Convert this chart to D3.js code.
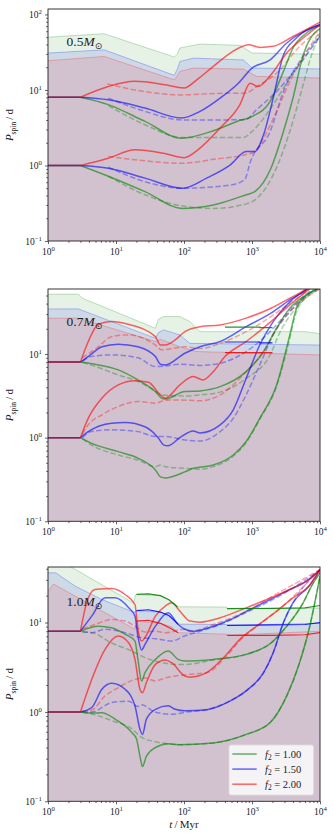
<!DOCTYPE html>
<html>
<head>
<meta charset="utf-8">
<script src="https://cdn.jsdelivr.net/npm/d3@7"></script>
<style>
  body { margin: 0; background: #fff; }
  svg { display: block; font-family: "Liberation Serif", "DejaVu Serif", serif; }
</style>
</head>
<body>
<svg id="chart" width="333" height="838"></svg>
<script>
// ---- data: [t (Myr), P_spin (d)] ----

// 0.5 Msun
const m05_fillG = [[1,50],[6.7,55.5],[72,27.3],[80,30],[87,36],[172,40.5],[665,39],[1000,30.9],[6000,30],[10000,30]];
const m05_fillB = [[1,30.8],[6.7,34],[72,15.6],[80,19],[87,23.8],[137,26.4],[750,25],[1000,19.5],[10000,19]];
const m05_fillR = [[1,24.4],[6.7,27.8],[72,13.6],[80,15.5],[87,17.6],[137,19.5],[750,18.9],[1170,15.1],[10000,14.4]];

const m05_solidG = [
  [[1,8],[3,8],[7.7,6.4],[26.7,3.83],[92,2.3],[270,2.88],[600,3.83],[1000,4.45],[1850,7.05],[2900,17.6],[4000,35.9],[6300,56.7],[10000,71]],
  [[1,1],[3,1],[7.7,0.72],[26.7,0.45],[95,0.27],[270,0.3],[820,0.41],[1100,0.45],[1900,0.92],[2900,2.82],[4000,7.8],[5650,29],[7500,51],[10000,65]]
];
const m05_solidB = [
  [[1,8],[3,8],[7.7,7.4],[26.7,5.76],[92,4.25],[172,5.2],[340,7.8],[630,12.3],[1000,19.5],[1850,25],[3240,41.8],[10000,73]],
  [[1,1],[3,1],[7.7,0.92],[26.7,0.68],[95,0.5],[215,0.68],[480,1.02],[820,1.53],[1100,1.53],[1480,2.55],[2050,7.8],[2900,29],[4500,48.7],[10000,73]]
];
const m05_solidR = [
  [[1,8],[3,8],[7.7,11.1],[19,13],[50,11.8],[100,10.6],[154,13.6],[270,20.5],[480,30.8],[890,39.7],[1300,36.6],[2050,37.8],[4000,51],[10000,79]],
  [[1,1],[3,1],[7.7,1.25],[19,1.61],[50,1.45],[100,1.27],[172,1.7],[340,3.13],[665,6.4],[940,12.3],[1230,11.1],[1900,15.9],[3240,30.8],[5650,48.7],[10000,73]]
];
const m05_dashG = [
  [[7.7,6.2],[26.7,3.46],[95,2.35],[750,2.35],[1000,2.82],[2050,6.4],[3600,14.4],[6300,29],[10000,56.7]],
  [[7.7,0.72],[26.7,0.41],[95,0.29],[270,0.27],[820,0.31],[1000,0.33],[2050,0.75],[3600,2.82],[5650,11.7],[7500,29],[10000,53.8]]
];
const m05_dashB = [
  [[7.7,7.8],[26.7,5.2],[95,4.0],[800,4.03],[1170,5.5],[2300,9.55],[4500,19.5],[10000,51]],
  [[7.7,0.95],[26.7,0.61],[95,0.5],[480,0.55],[780,0.65],[950,1.13],[1850,2.82],[2900,9.55],[5000,23.8],[10000,51]]
];
const m05_dashR = [
  [[7.5,12],[19,10],[92,8.6],[300,9.0],[800,9.1],[1170,11.1],[2600,18.5],[4500,34],[10000,63]],
  [[7.7,1.32],[19,1.19],[92,1.07],[300,1.22],[800,1.39],[1100,1.53],[1480,2.3],[2300,5.2],[3600,12.9],[6300,32],[10000,59.6]]
];

// 0.7 Msun
const m07_fillG = [[1,51.8],[2.8,51.8],[3.2,46.4],[38,20.3],[42,26],[50,28],[87,28],[122,24.4],[172,18.5],[6000,18.5],[10000,17.5]];
const m07_fillB = [[1,34.6],[2.8,34.6],[38,15.4],[42,18],[50,19.4],[87,16.9],[122,13.4],[10000,12.8]];
const m07_fillR = [[1,26.8],[2.8,26.8],[38,14.1],[45,15],[87,12.2],[150,10.7],[10000,9.75]];
const m07_satG = [[400,20.9],[1300,20.9],[1300,20.6],[2000,20.6]];
const m07_satB = [[400,13.9],[1300,13.9],[1300,13.6],[2000,13.6]];
const m07_satR = [[400,10.4],[2000,10.4]];

const m07_solidG = [
  [[1,8],[3,8],[4.9,7.54],[10.8,6.45],[21,4.9],[38,3.55],[47,2.96],[53,2.9],[103,3.55],[172,3.62],[340,4.07],[820,6.15],[1480,10.7],[2300,20.3],[3600,35.2],[6300,50.8],[10000,62]],
  [[1,1],[3,1],[4.3,0.86],[10.8,0.68],[21,0.57],[38,0.41],[45,0.34],[53,0.33],[66,0.34],[103,0.39],[137,0.43],[270,0.47],[530,0.62],[820,0.9],[1300,1.7],[2300,4.27],[3600,16.9],[4500,35],[6300,50],[10000,62]]
];
const m07_solidB = [
  [[1,8],[3,8],[3.9,9.3],[6.2,12.2],[10.8,13.1],[21,12.2],[38,9.3],[45,7.54],[53,7.4],[103,10.2],[172,12.2],[340,14.1],[820,21.2],[1900,30.7],[3600,44.3],[6300,58],[8000,68]],
  [[1,1],[3,1],[3.9,1.18],[8.6,1.49],[13.6,1.52],[26.7,1.35],[42,0.99],[50,0.82],[58,0.8],[87,1.0],[137,1.2],[172,1.14],[340,1.42],[530,2.15],[820,5.1],[1300,12.8],[2050,24.4],[3600,42],[6300,59]]
];
const m07_solidR = [
  [[1,8],[3,8],[3.9,14],[5.5,22.7],[8.6,24.4],[15,22.7],[38,16.1],[45,12.8],[53,12.8],[74,14.7],[103,18.5],[172,21.2],[340,22.2],[820,26.8],[1900,35.2],[3600,46.4],[6300,60],[8000,70]],
  [[1,1],[3,1],[3.9,1.7],[6.2,2.96],[10.8,4.27],[19,4.8],[30,4.6],[45,3.24],[53,2.96],[87,4.27],[137,5.37],[190,4.9],[270,6.15],[400,9.3],[820,14.1],[1900,24.4],[3600,38.6],[6300,56],[8000,66]]
];
const m07_dashG = [
  [[3.2,7.9],[4.3,7.4],[10.8,5.6],[21,4.7],[38,3.6],[47,3.24],[103,3.15],[172,3.24],[340,3.5],[820,5.1],[1850,9.75],[2600,18.5],[4000,32],[6900,50],[10000,60]],
  [[3.2,0.97],[4.3,0.82],[10.8,0.62],[21,0.54],[38,0.45],[45,0.47],[53,0.45],[103,0.43],[172,0.42],[270,0.45],[530,0.6],[820,0.87],[1300,1.65],[2300,4.1],[3500,14],[4400,30],[6300,48],[10000,60]]
];
const m07_dashB = [
  [[3.2,8.2],[4.3,9.3],[8.6,9.75],[21,9],[38,7.06],[53,7.2],[87,7.54],[172,7.3],[340,7.75],[820,10.7],[1850,18.5],[3600,33.6],[7000,56],[9000,64]],
  [[3.2,1.0],[4.3,1.18],[8.6,1.24],[21,1.18],[38,1.03],[53,1.03],[103,0.94],[172,0.91],[340,1.18],[530,1.7],[820,3.24],[1300,7.4],[2050,16.9],[3600,32],[6300,50],[9000,60]]
];
const m07_dashR = [
  [[3.2,9],[5.5,12.2],[8.6,16.1],[15,16.9],[38,12.8],[47,11.2],[103,12.2],[172,11.6],[340,13.4],[820,18.5],[1900,28],[3600,40.4],[6300,56],[8000,64]],
  [[3.2,1.1],[3.9,1.42],[6.2,1.87],[10.8,2.35],[21,2.7],[38,2.58],[53,2.8],[87,2.82],[172,2.76],[340,3.24],[820,6.15],[1480,10.7],[2300,20.3],[4000,35],[10000,60]]
];

// 1.0 Msun
const m10_fillG = [[1,59],[18,16.6],[19.5,20.6],[45,20],[60,18],[80,15],[425,14.9],[430,14.3],[10000,14.5]];
const m10_fillB = [[1,36],[1.3,36],[2.5,25.6],[6.2,18.1],[19,12.9],[20,13.6],[45,13.1],[65,11.5],[82,9.6],[425,9.5],[430,9.3],[10000,9.8]];
const m10_fillR = [[1,22.3],[1.2,27],[19,8.4],[20,10.4],[45,9.8],[65,9],[82,7.7],[425,7.4],[430,7.2],[10000,8]];
const m10_satG = [[20,20.6],[30,20.9],[45,20],[60,18],[80,15]];
const m10_satB = [[20,13.6],[30,13.9],[45,13.1],[60,12],[82,9.6]];
const m10_satR = [[20,10.4],[30,10.6],[45,9.8],[65,8.5],[82,7.7]];
const m10_satG2 = [[430,14.3],[2000,14.4],[6000,14.6],[10000,15.5]];
const m10_satB2 = [[430,9.3],[2000,9.4],[6000,9.5],[10000,10]];
const m10_satR2 = [[430,7.2],[2000,7.2],[6000,7.3],[10000,7.7]];

const m10_solidG = [
  [[1,8],[3,8],[5.5,9.1],[8.6,8.75],[13.6,7.4],[19,6.2],[21,3.87],[23.8,2.22],[26.7,2.75],[38,3.87],[58.5,4.8],[82,3.87],[103,3.7],[270,3.87],[820,4.4],[1900,5.9],[3240,9.1],[5650,16.6],[7500,25.6],[10000,36]],
  [[1,1],[3,1],[4.4,0.97],[6.2,0.98],[9.7,0.83],[17,0.59],[20,0.5],[22.5,0.32],[24.5,0.245],[28,0.32],[38,0.4],[58.5,0.44],[82,0.43],[270,0.45],[820,0.56],[1850,0.76],[3240,1.51],[5000,3.55],[6900,8.4],[10000,33]]
];
const m10_solidB = [
  [[1,8],[3,8],[4.4,11.8],[6.9,18.9],[9.7,18.9],[15.4,14.6],[19,11.8],[21,7.06],[23.8,4.93],[26.7,5.7],[38,9.1],[58.5,12.9],[82,9.5],[103,8.4],[137,8.0],[215,8.6],[480,10.8],[940,14],[1900,18.2],[3600,23.4],[6300,29],[10000,39]],
  [[1,1],[3,1],[4.4,1.12],[6.2,1.79],[8.6,2.09],[13.6,1.79],[19,1.17],[22.5,0.64],[24.5,0.56],[28,0.83],[38,1.07],[58.5,1.17],[74,1.07],[103,1.03],[215,1.06],[480,1.33],[820,1.72],[1480,2.75],[2050,4.6],[2900,10],[4000,16.6],[6900,25.6],[10000,39]]
];
const m10_solidR = [
  [[1,8],[3,8],[3.7,16.6],[4.9,23.4],[8.6,24],[13.6,20.6],[19,15.9],[21,8.4],[23.8,6.2],[26.7,6.8],[38,11.8],[53,15.3],[66,16.6],[87,13.4],[122,10.4],[172,10.1],[340,11.3],[820,14.6],[1900,18.9],[3600,23.4],[6300,29],[10000,39]],
  [[1,1],[3,1],[4.4,2.31],[6.9,5.0],[10.8,7.06],[15.4,5.9],[19,3.87],[22.5,1.79],[24.5,1.64],[28,2.13],[38,3.4],[53,3.81],[66,3.55],[103,2.52],[122,2.45],[215,2.75],[400,4.2],[665,6.5],[1170,9.1],[2300,13.4],[4000,18.9],[6900,25.6],[10000,39]]
];
const m10_dashG = [
  [[3.2,7.8],[4.4,7.7],[8.6,5.9],[17,4.8],[26.7,4.05],[38,3.7],[82,3.4],[103,3.4],[270,3.8],[820,4.4],[1900,5.9],[3240,9.1],[5650,16.6],[7500,25.6],[10000,36]],
  [[3.2,1.0],[4.4,0.95],[8.6,0.8],[17,0.65],[23.8,0.52],[35,0.47],[58.5,0.44],[82,0.43],[270,0.45],[820,0.56],[1850,0.76],[3240,1.51],[5000,3.55],[6900,8.4],[10000,33]]
];
const m10_dashB = [
  [[3.2,8],[4.4,7.7],[6.9,8.4],[13.6,7.7],[23.8,6.77],[38,6.6],[66,6.2],[103,7.1],[172,8.0],[340,9.5],[820,12.9],[2600,20],[10000,39]],
  [[3.2,1.0],[4.4,1.0],[8.6,1.27],[15.4,1.32],[21,1.15],[23.8,1.2],[38,0.99],[66,0.94],[103,0.99],[215,1.06],[480,1.33],[820,1.72],[1480,2.75],[2050,4.6],[2900,10],[4000,16.6],[10000,39]]
];
const m10_dashR = [
  [[3.2,8.5],[4.9,9.5],[8.6,10.8],[13.6,10.4],[19,9.1],[26.7,7.85],[38,8.0],[53,7.7],[103,8.4],[122,7.95],[270,9.5],[820,13.4],[2300,20.9],[10000,39]],
  [[3.2,1.02],[4.4,1.05],[6.9,1.51],[10.8,1.87],[19,2.31],[26.7,2.4],[38,2.22],[53,2.4],[103,2.6],[215,2.75],[400,4.0],[665,6.3],[1170,9.0],[2300,13.3],[10000,39]]
];

const massLabels = ["0.5", "0.7", "1.0"];
const legendLabels = ["1.00", "1.50", "2.00"];
const xTicks = [1, 10, 100, 1000, 10000];

// ---- layout ----
const svg = d3.select("#chart");
const GREEN = "#008000", BLUE = "#0000ff", RED = "#ff0000";
const x = d3.scaleLog().domain([1, 1e4]).range([48, 320]);

const panels = [
  { mass: massLabels[0], top: 9, bottom: 241, yMax: 118, labelY: 45.5,
    fills: [m05_fillG, m05_fillB, m05_fillR], sat: [],
    solid: [m05_solidG, m05_solidB, m05_solidR], dash: [m05_dashG, m05_dashB, m05_dashR] },
  { mass: massLabels[1], top: 289, bottom: 521.3, yMax: 59.8, labelY: 325.7,
    fills: [m07_fillG, m07_fillB, m07_fillR], sat: [[m07_satG], [m07_satB], [m07_satR]],
    solid: [m07_solidG, m07_solidB, m07_solidR], dash: [m07_dashG, m07_dashB, m07_dashR] },
  { mass: massLabels[2], top: 567, bottom: 801.3, yMax: 41.8, labelY: 605.7,
    fills: [m10_fillG, m10_fillB, m10_fillR], sat: [[m10_satG, m10_satG2], [m10_satB, m10_satB2], [m10_satR, m10_satR2]],
    solid: [m10_solidG, m10_solidB, m10_solidR], dash: [m10_dashG, m10_dashB, m10_dashR] }
];
const cols = [GREEN, BLUE, RED];

function supLabel(sel, d) {
  const e = Math.round(Math.log10(d));
  sel.text(null);
  sel.append("tspan").text("10");
  sel.append("tspan").attr("font-size", 6.8).attr("dy", -4)
    .text(e < 0 ? "\u2212" + (-e) : String(e));
}

panels.forEach((p, i) => {
  const y = d3.scaleLog().domain([0.1, p.yMax]).range([p.bottom, p.top]);
  const g = svg.append("g");

  svg.append("clipPath").attr("id", "clip" + i)
    .append("rect").attr("x", 48).attr("y", p.top)
    .attr("width", 272).attr("height", p.bottom - p.top);
  const plot = g.append("g").attr("clip-path", `url(#clip${i})`);

  const area = d3.area().x(d => x(d[0])).y0(p.bottom).y1(d => y(d[1]));
  const edge = d3.line().x(d => x(d[0])).y(d => y(d[1]));
  const smooth = d3.line().x(d => x(d[0])).y(d => y(d[1])).curve(d3.curveMonotoneX);
  // flat start up to t = 3 kept as a sharp kink
  const track = data => data[0][0] === 1
    ? edge(data.slice(0, 2)) + smooth(data.slice(1))
    : smooth(data);

  p.fills.forEach((data, k) => {
    plot.append("path").attr("d", area(data))
      .attr("fill", cols[k]).attr("fill-opacity", 0.1);
  });
  p.fills.forEach((data, k) => {
    plot.append("path").attr("d", edge(data))
      .attr("fill", "none").attr("stroke", cols[k])
      .attr("stroke-opacity", 0.3).attr("stroke-width", 0.8);
  });

  p.dash.forEach((pair, k) => {
    pair.forEach(data => {
      plot.append("path").attr("d", smooth(data))
        .attr("fill", "none").attr("stroke", cols[k])
        .attr("stroke-opacity", 0.35).attr("stroke-width", 1.5)
        .attr("stroke-dasharray", "5.5,2.4");
    });
  });
  p.solid.forEach((pair, k) => {
    pair.forEach(data => {
      plot.append("path").attr("d", track(data))
        .attr("fill", "none").attr("stroke", cols[k])
        .attr("stroke-opacity", 0.6).attr("stroke-width", 1.5);
    });
  });
  p.sat.forEach((segs, k) => {
    segs.forEach(data => {
      plot.append("path").attr("d", edge(data))
        .attr("fill", "none").attr("stroke", cols[k])
        .attr("stroke-opacity", 0.85).attr("stroke-width", 1.2);
    });
  });

  // axes
  const yMajor = [0.1, 1, 10, 100].filter(v => v <= p.yMax);
  const yMinor = [];
  [0.1, 1, 10].forEach(b => d3.range(2, 10).forEach(m => { if (b * m <= p.yMax) yMinor.push(b * m); }));
  const xMinor = [];
  [1, 10, 100, 1000].forEach(b => d3.range(2, 10).forEach(m => xMinor.push(b * m)));

  g.append("g").attr("transform", `translate(0,${p.bottom})`)
    .call(d3.axisBottom(x).tickValues(xMinor).tickSize(1.8).tickFormat(""))
    .call(a => a.select(".domain").remove());
  g.append("g").attr("transform", `translate(48,0)`)
    .call(d3.axisLeft(y).tickValues(yMinor).tickSize(1.8).tickFormat(""))
    .call(a => a.select(".domain").remove());

  const xa = g.append("g").attr("transform", `translate(0,${p.bottom})`)
    .call(d3.axisBottom(x).tickValues(xTicks).tickSize(3).tickPadding(3));
  xa.select(".domain").remove();
  xa.selectAll("text").attr("font-size", 9.5).attr("font-family", "Liberation Serif")
    .attr("dy", null).attr("y", 13.5).attr("fill", "#222")
    .each(function (d) { supLabel(d3.select(this), d); });

  const ya = g.append("g").attr("transform", `translate(48,0)`)
    .call(d3.axisLeft(y).tickValues(yMajor).tickSize(3).tickPadding(3));
  ya.select(".domain").remove();
  ya.selectAll("text").attr("font-size", 9.5).attr("font-family", "Liberation Serif")
    .attr("dy", "0.35em").attr("fill", "#222")
    .each(function (d) { supLabel(d3.select(this), d); });

  g.selectAll(".tick line").attr("stroke", "#222").attr("stroke-width", 0.7);

  g.append("rect").attr("x", 48).attr("y", p.top)
    .attr("width", 272).attr("height", p.bottom - p.top)
    .attr("fill", "none").attr("stroke", "#222").attr("stroke-width", 0.9);

  // y label
  const yl = g.append("text")
    .attr("transform", `translate(13,${(p.top + p.bottom) / 2}) rotate(-90)`)
    .attr("text-anchor", "middle").attr("font-size", 11).attr("fill", "#222");
  yl.append("tspan").attr("font-style", "italic").text("P");
  yl.append("tspan").attr("font-size", 7.5).attr("dy", 2.5).text("spin");
  yl.append("tspan").attr("dy", -2.5).text("\u2009/\u2009d");

  // mass label
  const ml = g.append("text").attr("x", 66.5).attr("y", p.labelY)
    .attr("font-size", 13.5).attr("fill", "#222");
  ml.append("tspan").text(p.mass);
  ml.append("tspan").attr("font-style", "italic").text("M");
  ml.append("tspan").attr("font-size", 9).attr("dy", 3).attr("font-family", "DejaVu Sans").text("\u2299");
});

// x label
const xl = svg.append("text").attr("x", 184).attr("y", 828)
  .attr("text-anchor", "middle").attr("font-size", 11).attr("fill", "#222");
xl.append("tspan").attr("font-style", "italic").text("t");
xl.append("tspan").text("\u2009/\u2009Myr");

// legend
const lg = svg.append("g").attr("transform", "translate(229,745)");
lg.append("rect").attr("width", 84.5).attr("height", 50).attr("rx", 2)
  .attr("fill", "#fff").attr("fill-opacity", 0.8)
  .attr("stroke", "#ddd").attr("stroke-width", 0.8);
legendLabels.forEach((lab, k) => {
  const ry = 9 + k * 15.1;
  lg.append("line").attr("x1", 3.3).attr("x2", 27.7).attr("y1", ry).attr("y2", ry)
    .attr("stroke", cols[k]).attr("stroke-opacity", 0.6).attr("stroke-width", 1.5);
  const t = lg.append("text").attr("x", 36).attr("y", ry + 3.5)
    .attr("font-size", 10.5).attr("fill", "#222");
  t.append("tspan").attr("font-style", "italic").text("f");
  t.append("tspan").attr("font-size", 7.5).attr("dy", 2.5).text("2");
  t.append("tspan").attr("dy", -2.5).text(" = " + lab);
});
</script>
</body>
</html>
